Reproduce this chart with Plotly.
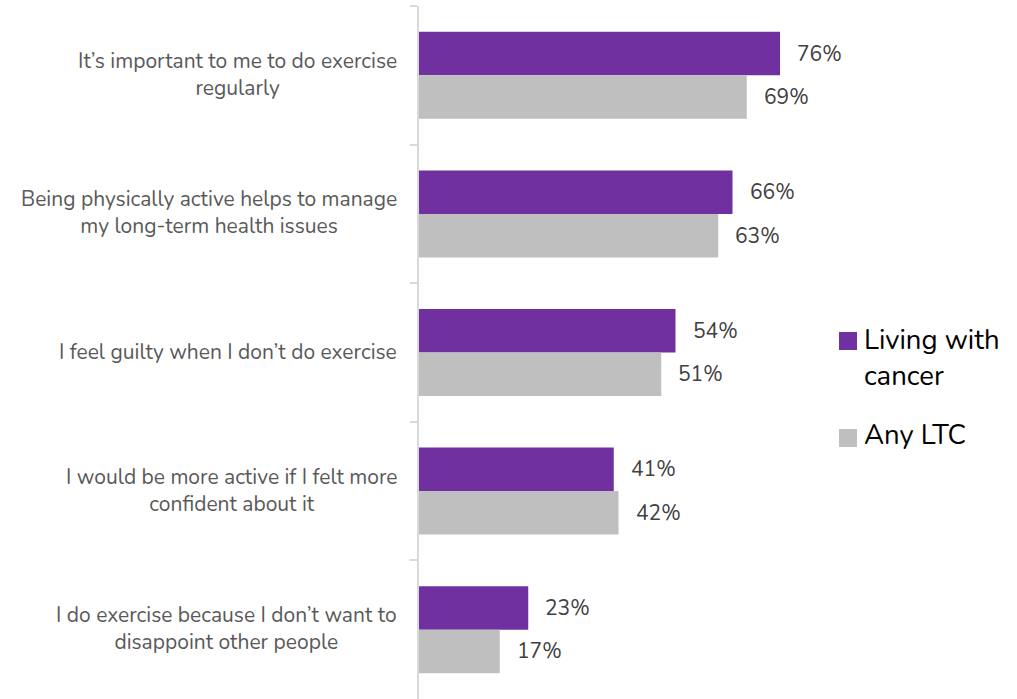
import plotly.graph_objects as go

categories = [
    "It’s important to me to do exercise<br>regularly",
    "Being physically active helps to manage<br>my long-term health issues",
    "I feel guilty when I don’t do exercise",
    "I would be more active if I felt more<br>confident about it",
    "I do exercise because I don’t want to<br>disappoint other people",
]
cancer = [76, 66, 54, 41, 23]
any_ltc = [69, 63, 51, 42, 17]
series_names = ["Living with<br>cancer", "Any LTC"]
colors = ["#7030A0", "#BFBFBF"]

W, H = 1017, 699
L, R, T, B = 419, 218, 6, 0
plot_w = W - L - R
plot_h = H - T - B

fig = go.Figure()
for name, vals, col in zip(series_names, [cancer, any_ltc], colors):
    fig.add_trace(go.Bar(
        y=categories, x=vals, orientation="h", name=name.replace("<br>", " "),
        marker=dict(color=col, line=dict(width=0)), showlegend=False,
    ))

band = plot_h / len(categories)
bargap = 0.372
bar_h = band * (1 - bargap) / 2
annotations = []
for vals, sh in [(cancer, bar_h / 2), (any_ltc, -bar_h / 2)]:
    for c, v in zip(categories, vals):
        annotations.append(dict(
            x=v, y=c, xref="x", yref="y", text=f"{v}%", showarrow=False,
            xanchor="left", yanchor="middle", xshift=15, yshift=sh,
            font=dict(family="Nunito, Lato, sans-serif", size=21, color="#404040"),
        ))
for c in categories:
    annotations.append(dict(
        x=0, y=c, xref="paper", yref="y", text=c, showarrow=False,
        xanchor="right", yanchor="middle", xshift=-20, yshift=1, align="center",
        font=dict(family="Nunito, Lato, sans-serif", size=21, color="#595959"),
    ))

def px_x(p):
    return (p - L) / plot_w

def px_y(p):
    return (H - B - p) / plot_h

shapes = []
for (y0, y1), col in zip([(332, 350), (429, 447)], colors):
    shapes.append(dict(type="rect", xref="paper", yref="paper",
                       x0=px_x(839), x1=px_x(857), y0=px_y(y1), y1=px_y(y0),
                       fillcolor=col, line=dict(width=0)))
for txt, yc in zip(series_names, [358.5, 435]):
    annotations.append(dict(
        x=px_x(862), y=px_y(yc), xref="paper", yref="paper", text=txt,
        showarrow=False, xanchor="left", yanchor="middle", align="left",
        font=dict(family="Nunito, Lato, sans-serif", size=27.5, color="#000000"),
    ))

fig.update_layout(
    width=W, height=H, barmode="group", bargap=bargap, bargroupgap=0,
    margin=dict(l=L, r=R, t=T, b=B, pad=0),
    plot_bgcolor="white", paper_bgcolor="white",
    xaxis=dict(range=[0, 80], visible=False, showgrid=False, zeroline=False),
    yaxis=dict(autorange="reversed", showticklabels=False, showgrid=False, zeroline=False,
               showline=True, linecolor="#D9D9D9", linewidth=2,
               ticks="outside", tickson="boundaries", ticklen=7, tickcolor="#D9D9D9", tickwidth=2),
    annotations=annotations, shapes=shapes,
)

fig.write_html("out.html")
